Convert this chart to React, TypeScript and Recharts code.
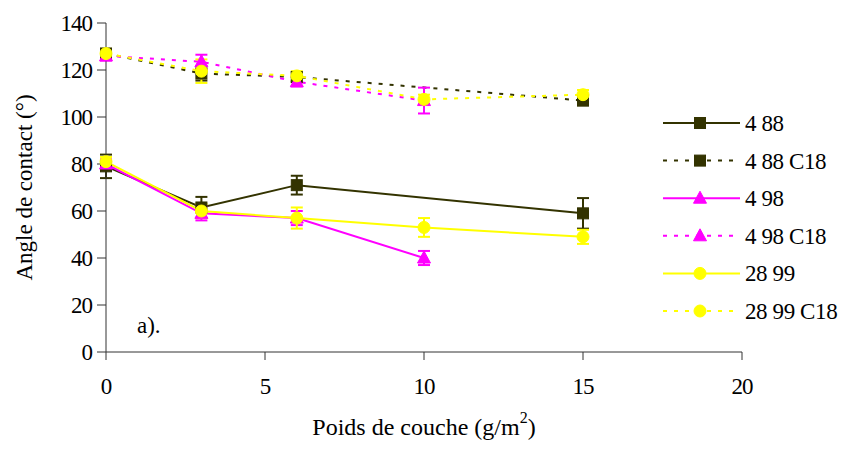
import React from 'react';
import { LineChart, Line, XAxis, YAxis, ErrorBar, Customized } from 'recharts';

// x positions (g/m2)
const xA = [0, 3, 6, 15];
const xB = [0, 3, 6, 10];
const xC = [0, 3, 6, 10, 15];

// values and error half-widths (degrees)
const v488 = [79, 61.5, 71, 59];
const e488 = [5, 4.5, 4, 6.5];
const v488C18 = [127, 118.5, 117, 107];
const e488C18 = [2, 3, 2, 2];
const v498 = [80, 59, 57, 40];
const e498 = [2, 3, 3, 3];
const v498C18 = [126, 123.5, 115, 107];
const e498C18 = [2, 3, 2, 5.5];
const v2899 = [81, 60, 57, 53, 49];
const e2899 = [2, 3, 4.5, 4, 3];
const v2899C18 = [127, 119.5, 117.5, 107.5, 109.5];
const e2899C18 = [2, 5, 2, 2, 2];

const seriesNames = ['4 88', '4 88 C18', '4 98', '4 98 C18', '28 99', '28 99 C18'];
const xTicks = [0, 5, 10, 15, 20];
const yTicks = [0, 20, 40, 60, 80, 100, 120, 140];

const OLIVE = '#333300';
const MAGENTA = '#FF00FF';
const YELLOW = '#FFFF00';
const FONT = 'Liberation Serif, serif';
const FS = 23;

type Shape = 'square' | 'triangle' | 'circle';

const build = (xs: number[], vs: number[], es: number[]) =>
  xs.map((x, i) => ({ x, y: vs[i], err: es[i] }));

const series = [
  { name: seriesNames[0], data: build(xA, v488, e488), color: OLIVE, shape: 'square' as Shape, dashed: false },
  { name: seriesNames[1], data: build(xA, v488C18, e488C18), color: OLIVE, shape: 'square' as Shape, dashed: true },
  { name: seriesNames[2], data: build(xB, v498, e498), color: MAGENTA, shape: 'triangle' as Shape, dashed: false },
  { name: seriesNames[3], data: build(xB, v498C18, e498C18), color: MAGENTA, shape: 'triangle' as Shape, dashed: true },
  { name: seriesNames[4], data: build(xC, v2899, e2899), color: YELLOW, shape: 'circle' as Shape, dashed: false },
  { name: seriesNames[5], data: build(xC, v2899C18, e2899C18), color: YELLOW, shape: 'circle' as Shape, dashed: true },
];

const DASH = '4 7';
const textStyle = { fontFamily: FONT };

function Marker({ shape, color, cx, cy }: { shape: Shape; color: string; cx: number; cy: number }) {
  if (shape === 'square') {
    return <rect x={cx - 5.5} y={cy - 5.5} width={11} height={11} fill={color} stroke={color} strokeWidth={1} />;
  }
  if (shape === 'triangle') {
    return <path d={`M${cx},${cy - 7} L${cx + 6.5},${cy + 5} L${cx - 6.5},${cy + 5} Z`} fill={color} stroke={color} strokeWidth={1} />;
  }
  return <circle cx={cx} cy={cy} r={6} fill={color} stroke={color} strokeWidth={1} />;
}

const makeDot = (shape: Shape, color: string) => (props: any) => {
  const { cx, cy, index } = props;
  if (cx == null || cy == null) return <g key={`d-${index}`} />;
  return (
    <g key={`d-${index}`}>
      <Marker shape={shape} color={color} cx={cx} cy={cy} />
    </g>
  );
};

const XTick = (props: any) => {
  const { x, y, payload } = props;
  return (
    <text x={x} y={y + 32} textAnchor="middle" style={textStyle} fontSize={FS} fill="#000" letterSpacing={-1}>
      {payload.value}
    </text>
  );
};

const YTick = (props: any) => {
  const { x, y, payload } = props;
  return (
    <text x={x - 3} y={y + 8} textAnchor="end" style={textStyle} fontSize={FS} fill="#000" letterSpacing={-1}>
      {payload.value}
    </text>
  );
};

const XTitle = (props: any) => {
  const vb = props.viewBox || {};
  const cx = vb.x + vb.width / 2;
  return (
    <text x={cx} y={vb.y + 83} textAnchor="middle" style={textStyle} fontSize={24} fill="#000">
      <tspan>Poids de couche (g/m</tspan>
      <tspan fontSize={16} dy={-12}>2</tspan>
      <tspan dy={12}>)</tspan>
    </text>
  );
};

const YTitle = (props: any) => {
  const vb = props.viewBox || {};
  const cy = vb.y + vb.height / 2;
  const cx = 24;
  return (
    <text x={cx} y={cy} transform={`rotate(-90, ${cx}, ${cy})`} textAnchor="middle" dominantBaseline="central" style={textStyle} fontSize={FS} fill="#000">
      Angle de contact (°)
    </text>
  );
};

const LegendBox = () => (
  <svg width={182} height={230} style={{ position: 'absolute', left: 660, top: 105, display: 'block' }}>
    {series.map((s, i) => {
      const y = 18 + i * 37.6;
      return (
        <g key={s.name}>
          <line x1={3} x2={80} y1={y} y2={y} stroke={s.color} strokeWidth={2} strokeDasharray={s.dashed ? DASH : undefined} />
          <Marker shape={s.shape} color={s.color} cx={40} cy={y} />
          <text x={85} y={y + 8} style={textStyle} fontSize={FS} fill="#000" letterSpacing={-0.4}>
            {s.name}
          </text>
        </g>
      );
    })}
  </svg>
);

const Annotation = () => (
  <text x={137} y={333} style={textStyle} fontSize={FS} fill="#000">
    a).
  </text>
);

export default function App() {
  return (
    <div style={{ position: 'absolute', left: 0, top: 0, width: 842, height: 452, background: '#fff' }}>
      <LineChart width={842} height={452} margin={{ top: 23, right: 100, left: 0, bottom: 0 }}>
        <XAxis
          type="number"
          dataKey="x"
          domain={[0, 20]}
          ticks={xTicks}
          tickSize={8}
          tick={<XTick />}
          height={100}
          stroke="#333"
          allowDuplicatedCategory={false}
          label={<XTitle />}
        />
        <YAxis
          type="number"
          domain={[0, 140]}
          ticks={yTicks}
          tickSize={9}
          tick={<YTick />}
          width={106}
          stroke="#333"
          label={<YTitle />}
        />
        {series.map((s) => (
          <Line
            key={s.name}
            data={s.data}
            dataKey="y"
            name={s.name}
            stroke={s.color}
            strokeWidth={2}
            strokeDasharray={s.dashed ? DASH : undefined}
            dot={makeDot(s.shape, s.color)}
            activeDot={false}
            isAnimationActive={false}
          >
            <ErrorBar dataKey="err" direction="y" width={6} strokeWidth={2} stroke={s.color} />
          </Line>
        ))}
        <Customized component={<Annotation />} />
      </LineChart>
      <LegendBox />
    </div>
  );
}
